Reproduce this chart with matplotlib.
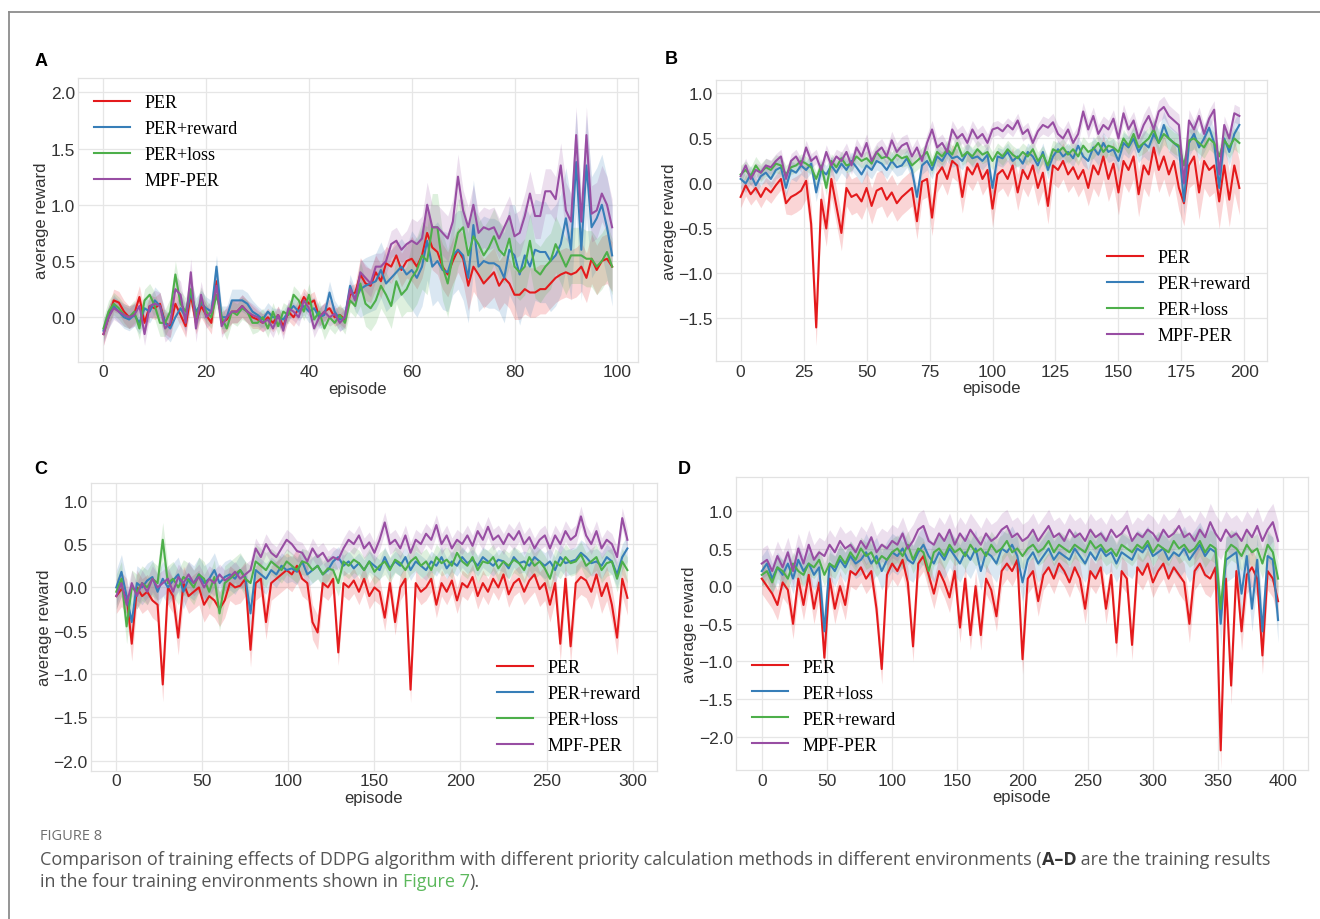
import matplotlib
matplotlib.use('Agg')
import matplotlib.pyplot as plt
import numpy as np
from matplotlib.lines import Line2D

plt.rcParams['font.family'] = ['Liberation Sans', 'DejaVu Sans']

colors = ['#e41a1c', '#377eb8', '#4daf4a', '#984ea3']
labels_abc = ['PER', 'PER+reward', 'PER+loss', 'MPF-PER']
labels_d = ['PER', 'PER+loss', 'PER+reward', 'MPF-PER']

# ---- panel A: 100 episodes, every episode ----
a_per = [-0.15, 0.0, 0.15, 0.13, 0.05, 0.0, 0.03, 0.18, -0.05, 0.1,
         0.08, 0.12, -0.05, -0.08, 0.12, 0.02, -0.08, 0.2, -0.05, 0.1,
         0.02, -0.05, 0.32, -0.05, -0.02, 0.05, 0.05, 0.1, 0.05, 0.0,
         -0.02, -0.05, 0.0, -0.05, 0.02, -0.08, 0.05, 0.0, 0.08, 0.18,
         0.12, 0.15, 0.0, 0.05, 0.08, 0.0, 0.02, -0.02, 0.2, 0.22,
         0.38, 0.3, 0.28, 0.4, 0.32, 0.48, 0.45, 0.55, 0.42, 0.5,
         0.52, 0.45, 0.55, 0.75, 0.62, 0.58, 0.45, 0.38, 0.5, 0.6,
         0.52, 0.28, 0.45, 0.38, 0.3, 0.35, 0.4, 0.28, 0.35, 0.3,
         0.2, 0.2, 0.25, 0.22, 0.22, 0.25, 0.25, 0.3, 0.35, 0.38,
         0.4, 0.38, 0.4, 0.45, 0.35, 0.52, 0.42, 0.5, 0.52, 0.45]
a_reward = [-0.12, 0.0, 0.1, 0.05, 0.0, -0.02, 0.02, -0.05, 0.08, 0.05,
            0.15, 0.1, -0.05, -0.1, 0.0, 0.08, 0.0, 0.22, 0.05, 0.12,
            0.08, 0.05, 0.45, 0.0, 0.0, 0.15, 0.15, 0.15, 0.12, 0.05,
            0.02, -0.02, 0.05, 0.0, 0.0, -0.02, 0.05, 0.1, 0.05, 0.1,
            0.05, 0.08, 0.0, 0.02, 0.22, 0.05, -0.02, 0.0, 0.28, 0.15,
            0.25, 0.28, 0.3, 0.32, 0.42, 0.3, 0.35, 0.4, 0.45, 0.38,
            0.42, 0.35, 0.45, 0.68, 0.45, 0.5, 0.42, 0.4, 0.55, 0.6,
            0.55, 0.35, 0.82, 0.45, 0.5, 0.48, 0.48, 0.45, 0.35, 0.6,
            0.55, 0.38, 0.55, 0.45, 0.6, 0.58, 0.58, 0.5, 0.55, 0.65,
            0.88, 0.6, 1.38, 0.6, 1.35, 0.8, 0.88, 1.0, 0.8, 0.55]
a_loss = [-0.1, 0.05, 0.12, 0.08, 0.02, 0.0, 0.05, -0.1, 0.15, 0.2,
          0.1, -0.05, -0.05, 0.05, 0.38, 0.12, 0.05, 0.25, 0.0, 0.15,
          0.05, 0.0, 0.2, 0.0, -0.1, 0.05, 0.02, 0.08, 0.05, -0.05,
          -0.05, 0.0, -0.1, 0.05, -0.08, 0.05, 0.02, 0.2, 0.15, 0.05,
          0.2, -0.02, 0.05, -0.1, 0.0, -0.05, 0.02, -0.05, 0.15, 0.1,
          0.3, 0.12, 0.08, 0.15, 0.28, 0.2, 0.1, 0.32, 0.2, 0.25,
          0.35, 0.42, 0.55, 0.5, 0.8, 0.8, 0.45, 0.3, 0.55, 0.75,
          0.8, 0.55, 0.72, 0.65, 0.55, 0.62, 0.72, 0.6, 0.55, 0.7,
          0.45, 0.4, 0.45, 0.68, 0.42, 0.38, 0.45, 0.5, 0.65, 0.55,
          0.45, 0.55, 0.55, 0.55, 0.52, 0.52, 0.45, 0.5, 0.58, 0.45]
a_mpf = [-0.15, 0.0, 0.08, 0.05, 0.02, 0.0, 0.02, 0.1, -0.15, 0.1,
         0.12, 0.1, -0.1, -0.05, 0.25, 0.2, -0.05, 0.4, -0.1, 0.2,
         0.0, 0.05, 0.28, -0.08, 0.0, 0.05, 0.05, 0.1, 0.05, 0.02,
         0.0, -0.05, -0.02, -0.1, 0.02, -0.12, 0.08, 0.05, 0.0, 0.15,
         0.08, -0.1, 0.0, 0.05, 0.0, 0.03, -0.05, 0.0, 0.25, 0.15,
         0.4, 0.35, 0.3, 0.45, 0.45, 0.5, 0.65, 0.68, 0.6, 0.65,
         0.68, 0.65, 0.7, 1.0, 0.8, 0.8, 0.75, 0.7, 0.85, 1.25,
         0.95, 0.8, 1.0, 0.75, 0.8, 0.78, 0.8, 0.7, 0.8, 0.9,
         0.72, 0.75, 0.9, 1.1, 0.9, 0.9, 1.12, 1.12, 1.05, 1.35,
         0.95, 0.85, 1.62, 0.85, 1.62, 0.92, 0.95, 1.1, 1.0, 0.8]
# band half-widths, one value per tenth of the run
a_spread = [[0.1, 0.1, 0.1, 0.08, 0.08, 0.15, 0.2, 0.22, 0.22, 0.22],
            [0.1, 0.12, 0.1, 0.08, 0.1, 0.25, 0.35, 0.4, 0.45, 0.45],
            [0.1, 0.12, 0.1, 0.08, 0.1, 0.2, 0.3, 0.25, 0.25, 0.25],
            [0.1, 0.12, 0.1, 0.08, 0.08, 0.12, 0.2, 0.18, 0.2, 0.25]]

# ---- panel B: 200 episodes, every 2nd episode ----
b_per = [-0.15, -0.02, -0.12, -0.05, -0.15, -0.05, -0.1, -0.02, 0.05, -0.22,
         -0.15, -0.12, -0.08, 0.03, -0.45, -1.6, -0.18, -0.5, 0.05, -0.25,
         -0.55, -0.05, -0.15, -0.12, -0.2, -0.05, -0.25, -0.08, -0.05, -0.18,
         -0.1, -0.22, -0.15, -0.1, -0.05, -0.42, 0.02, 0.05, -0.38, 0.1,
         0.18, 0.05, 0.25, 0.2, -0.15, 0.18, 0.1, 0.22, 0.05, 0.15,
         -0.28, 0.1, 0.15, 0.05, 0.2, -0.1, 0.15, 0.05, 0.2, -0.05,
         0.12, -0.25, 0.2, 0.15, 0.25, 0.1, 0.18, 0.05, 0.15, -0.05,
         0.2, 0.1, 0.3, 0.05, 0.22, -0.1, 0.25, 0.15, 0.3, -0.12,
         0.2, 0.1, 0.4, 0.15, 0.3, 0.1, 0.25, -0.05, -0.22, 0.2,
         0.3, -0.1, 0.25, 0.15, 0.2, -0.2, 0.2, -0.18, 0.2, -0.05]
b_reward = [0.05, 0.0, 0.1, -0.02, 0.08, 0.12, 0.05, 0.15, 0.18, -0.05,
            0.15, 0.12, 0.2, 0.15, 0.22, -0.1, 0.15, 0.1, 0.2, 0.12,
            0.22, 0.15, 0.25, 0.18, 0.1, 0.2, 0.15, 0.25, 0.22, 0.15,
            0.25, 0.18, 0.2, 0.28, 0.15, -0.15, 0.2, 0.25, 0.15, 0.3,
            0.25, 0.35, 0.28, 0.3, 0.25, 0.35, 0.28, 0.3, 0.25, 0.32,
            -0.05, 0.3, 0.28, 0.35, 0.25, 0.3, 0.22, 0.35, 0.3, 0.2,
            0.35, 0.15, 0.3, 0.38, 0.3, 0.35, 0.28, 0.42, 0.3, 0.25,
            0.4, 0.32, 0.45, 0.35, 0.38, 0.25, 0.45, 0.4, 0.5, 0.35,
            0.45, 0.4, 0.55, 0.45, 0.65, 0.5, 0.45, 0.4, -0.2, 0.45,
            0.55, 0.4, 0.5, 0.62, 0.45, -0.05, 0.5, 0.35, 0.55, 0.65]
b_loss = [0.1, 0.15, 0.08, 0.2, 0.12, 0.18, 0.15, 0.22, 0.2, 0.1,
          0.18, 0.2, 0.25, 0.22, 0.18, 0.05, 0.2, -0.05, 0.25, 0.18,
          0.28, 0.2, 0.22, 0.3, 0.25, 0.28, 0.22, 0.35, 0.28, 0.3,
          0.25, 0.32, 0.28, 0.3, 0.2, 0.25, 0.3, 0.35, 0.2, 0.35,
          0.3, 0.38, 0.32, 0.45, 0.3, 0.35, 0.3, 0.38, 0.32, 0.35,
          0.25, 0.35, 0.3, 0.38, 0.32, 0.28, 0.35, 0.3, 0.38, 0.25,
          0.32, 0.2, 0.38, 0.35, 0.4, 0.32, 0.38, 0.3, 0.42, 0.35,
          0.38, 0.45, 0.35, 0.42, 0.4, 0.35, 0.5, 0.42, 0.55, 0.4,
          0.45, 0.5, 0.6, 0.45, 0.55, 0.5, 0.45, 0.42, 0.2, 0.48,
          0.5, 0.45, 0.4, 0.5, 0.45, 0.3, 0.48, 0.4, 0.5, 0.45]
b_mpf = [0.08, 0.2, 0.05, 0.15, 0.12, 0.2, 0.18, 0.25, 0.3, 0.05,
         0.25, 0.3, 0.2, 0.4, 0.25, 0.3, 0.15, 0.35, 0.2, 0.3,
         0.25, 0.35, 0.2, 0.4, 0.3, 0.45, 0.25, 0.35, 0.4, 0.3,
         0.48, 0.35, 0.42, 0.45, 0.3, 0.4, 0.25, 0.45, 0.6, 0.4,
         0.45, 0.35, 0.6, 0.5, 0.55, 0.45, 0.6, 0.5, 0.55, 0.45,
         0.6, 0.62, 0.58, 0.65, 0.6, 0.7, 0.55, 0.6, 0.45, 0.58,
         0.65, 0.62, 0.68, 0.55, 0.5, 0.6, 0.45, 0.55, 0.8, 0.6,
         0.75, 0.55, 0.65, 0.6, 0.72, 0.5, 0.78, 0.6, 0.7, 0.5,
         0.65, 0.75, 0.6, 0.8, 0.85, 0.75, 0.7, 0.65, 0.0, 0.7,
         0.6, 0.75, 0.55, 0.72, 0.82, 0.1, 0.65, 0.5, 0.78, 0.75]
b_spread = [[0.12, 0.2, 0.2, 0.2, 0.18, 0.2, 0.2, 0.25, 0.25, 0.3],
            [0.1, 0.1, 0.1, 0.1, 0.1, 0.1, 0.1, 0.12, 0.15, 0.15],
            [0.1, 0.08, 0.08, 0.1, 0.1, 0.1, 0.1, 0.1, 0.12, 0.12],
            [0.08, 0.08, 0.1, 0.1, 0.1, 0.08, 0.1, 0.1, 0.12, 0.1]]

# ---- panel C: 300 episodes, every 3rd episode ----
c_per = [-0.1, -0.02, -0.1, -0.65, 0.0, -0.1, -0.05, -0.15, -0.2, -1.12,
         0.0, -0.1, -0.58, 0.05, -0.1, -0.05, 0.0, -0.2, -0.1, -0.15,
         -0.25, -0.15, 0.05, 0.0, 0.02, 0.1, -0.72, 0.05, 0.1, -0.4,
         0.05, 0.1, 0.15, 0.2, 0.15, 0.25, 0.1, 0.05, -0.4, -0.52,
         0.05, 0.0, 0.1, -0.75, 0.05, 0.0, 0.08, -0.05, 0.1, -0.1,
         0.0, -0.05, -0.35, 0.05, -0.4, 0.0, 0.1, -1.18, 0.05, -0.05,
         0.0, 0.1, -0.2, 0.05, -0.05, 0.08, -0.15, 0.05, 0.0, 0.12,
         -0.1, 0.05, -0.05, 0.1, 0.0, 0.15, -0.08, 0.05, 0.1, -0.05,
         0.08, 0.15, -0.02, 0.05, -0.2, 0.05, -0.65, 0.1, -0.68, 0.05,
         0.12, 0.08, -0.05, 0.15, -0.1, 0.05, -0.2, -0.58, 0.1, -0.12]
c_reward = [0.0, 0.18, -0.1, -0.4, 0.05, 0.0, 0.08, 0.12, -0.05, 0.1,
            0.0, 0.08, 0.15, -0.05, 0.1, 0.05, 0.15, 0.05, 0.1, 0.2,
            0.05, 0.12, 0.15, 0.1, 0.2, 0.12, -0.3, 0.2, 0.15, 0.1,
            0.2, 0.15, 0.25, 0.2, 0.22, 0.18, 0.3, 0.15, 0.2, 0.25,
            0.15, 0.2, 0.3, 0.35, 0.25, 0.3, 0.22, 0.28, 0.2, 0.3,
            0.25, 0.2, 0.35, 0.22, 0.3, 0.25, 0.35, 0.2, 0.3, 0.25,
            0.2, 0.3, 0.25, 0.35, 0.22, 0.3, 0.25, 0.35, 0.28, 0.32,
            0.25, 0.35, 0.3, 0.25, 0.32, 0.3, 0.22, 0.35, 0.28, 0.3,
            0.25, 0.35, 0.3, 0.25, 0.3, 0.2, 0.35, 0.28, 0.3, 0.32,
            0.4, 0.35, 0.28, 0.3, 0.25, 0.35, 0.3, 0.15, 0.35, 0.45]
c_loss = [-0.05, 0.1, -0.45, 0.0, -0.05, 0.05, 0.0, 0.1, 0.05, 0.55,
          0.05, 0.1, 0.0, 0.12, 0.08, 0.0, 0.15, 0.1, -0.05, 0.12,
          -0.3, 0.05, 0.1, 0.15, 0.2, 0.1, 0.05, 0.3, 0.25, 0.2,
          0.3, 0.25, 0.2, 0.3, 0.25, 0.2, 0.3, 0.28, 0.2, 0.25,
          0.15, 0.22, 0.2, 0.05, 0.3, 0.25, 0.32, 0.28, 0.2, 0.3,
          0.18, 0.25, 0.3, 0.2, 0.32, 0.28, 0.2, 0.3, 0.35, 0.25,
          0.3, 0.2, 0.35, 0.28, 0.32, 0.25, 0.4, 0.3, 0.25, 0.35,
          0.2, 0.3, 0.28, 0.35, 0.22, 0.3, 0.25, 0.32, 0.28, 0.2,
          0.35, 0.25, 0.3, 0.22, 0.1, 0.3, 0.25, 0.35, 0.28, 0.3,
          0.38, 0.25, 0.3, 0.35, 0.2, 0.28, 0.3, 0.1, 0.3, 0.2]
c_mpf = [-0.1, 0.05, -0.2, 0.05, -0.1, 0.05, -0.05, 0.1, 0.0, 0.05,
         0.1, -0.05, 0.12, 0.05, 0.15, 0.05, 0.12, 0.0, 0.1, 0.05,
         0.15, 0.08, 0.12, 0.18, 0.1, 0.15, 0.2, 0.45, 0.35, 0.5,
         0.4, 0.35, 0.45, 0.55, 0.5, 0.42, 0.4, 0.3, 0.45, 0.35,
         0.4, 0.3, 0.35, 0.32, 0.45, 0.55, 0.5, 0.6, 0.45, 0.52,
         0.4, 0.55, 0.75, 0.5, 0.55, 0.45, 0.6, 0.4, 0.55, 0.5,
         0.62, 0.55, 0.72, 0.5, 0.6, 0.45, 0.55, 0.5, 0.6, 0.48,
         0.65, 0.55, 0.7, 0.55, 0.6, 0.5, 0.62, 0.55, 0.65, 0.5,
         0.58, 0.45, 0.55, 0.6, 0.45, 0.6, 0.5, 0.65, 0.55, 0.6,
         0.82, 0.6, 0.5, 0.65, 0.45, 0.55, 0.5, 0.35, 0.8, 0.55]
c_spread = [[0.2, 0.2, 0.2, 0.2, 0.15, 0.15, 0.15, 0.15, 0.2, 0.2],
            [0.2, 0.2, 0.18, 0.15, 0.12, 0.12, 0.12, 0.12, 0.15, 0.15],
            [0.2, 0.2, 0.2, 0.15, 0.15, 0.15, 0.15, 0.15, 0.15, 0.15],
            [0.15, 0.15, 0.12, 0.12, 0.12, 0.12, 0.12, 0.12, 0.12, 0.12]]

# ---- panel D: 400 episodes, every 4th episode ----
d_per = [0.1, 0.0, -0.1, -0.25, 0.05, -0.05, -0.5, 0.1, -0.25, 0.15,
         -0.3, 0.05, -0.95, 0.1, -0.3, 0.0, -0.25, 0.2, 0.15, 0.25,
         0.1, 0.2, -0.3, -1.1, 0.15, 0.3, 0.2, 0.35, 0.05, -0.8,
         0.3, 0.4, 0.15, -0.1, 0.2, 0.05, -0.15, 0.2, -0.55, 0.1,
         -0.65, 0.0, -0.65, 0.1, -0.05, -0.4, 0.2, 0.3, 0.2, 0.35,
         -0.97, 0.1, 0.2, -0.2, 0.15, 0.25, 0.1, 0.3, 0.2, 0.05,
         0.25, 0.1, -0.3, 0.2, 0.1, 0.25, -0.3, 0.15, -0.75, 0.2,
         0.1, -0.78, 0.25, 0.15, 0.3, 0.05, 0.2, 0.3, 0.1, 0.25,
         0.15, 0.05, -0.5, 0.2, 0.3, 0.15, 0.1, 0.25, -2.18, 0.1,
         -1.32, 0.2, -0.6, 0.15, 0.25, 0.1, -0.92, 0.2, 0.1, -0.2]
d_loss = [0.2, 0.3, 0.1, 0.25, 0.15, 0.3, 0.1, 0.35, 0.2, 0.3,
          0.15, 0.25, -0.6, 0.3, 0.2, 0.35, 0.25, 0.4, 0.3, 0.35,
          0.45, 0.3, 0.4, 0.2, 0.35, 0.45, 0.4, 0.5, 0.35, 0.3,
          0.45, 0.55, 0.4, 0.3, 0.45, 0.35, 0.5, 0.4, 0.3, 0.45,
          0.35, 0.5, 0.2, 0.45, 0.4, 0.3, 0.5, 0.45, 0.55, 0.4,
          0.05, 0.35, 0.45, 0.3, 0.4, 0.5, 0.35, 0.45, 0.4, 0.35,
          0.5, 0.4, 0.3, 0.45, 0.35, 0.5, 0.4, 0.45, 0.3, 0.45,
          0.4, 0.35, 0.5, 0.45, 0.55, 0.4, 0.45, 0.5, 0.35, 0.45,
          0.4, 0.5, 0.35, 0.45, 0.55, 0.4, 0.5, 0.45, -0.5, 0.35,
          0.4, 0.45, -0.1, 0.4, -0.3, 0.35, -0.6, 0.4, 0.35, -0.45]
d_reward = [0.15, 0.2, 0.05, 0.25, 0.2, 0.1, 0.3, 0.2, 0.15, 0.3,
            0.25, 0.35, 0.15, 0.3, 0.25, 0.4, 0.3, 0.45, 0.35, 0.5,
            0.4, 0.45, 0.3, 0.4, 0.35, 0.45, 0.5, 0.4, 0.55, 0.35,
            0.5, 0.45, 0.2, 0.45, 0.5, 0.4, 0.55, 0.45, 0.5, 0.4,
            0.55, 0.45, 0.5, 0.4, 0.55, 0.45, 0.5, 0.6, 0.45, 0.5,
            0.4, 0.5, 0.55, 0.45, 0.5, 0.6, 0.45, 0.55, 0.5, 0.45,
            0.55, 0.5, 0.45, 0.6, 0.5, 0.55, 0.45, 0.5, 0.4, 0.55,
            0.5, 0.45, 0.55, 0.5, 0.6, 0.45, 0.55, 0.5, 0.45, 0.6,
            0.5, 0.55, 0.45, 0.5, 0.6, 0.45, 0.55, 0.5, -0.3, 0.45,
            0.55, 0.5, 0.4, 0.55, 0.45, 0.5, 0.3, 0.55, 0.45, 0.1]
d_mpf = [0.3, 0.35, 0.2, 0.4, 0.25, 0.45, 0.2, 0.5, 0.3, 0.55,
         0.35, 0.45, 0.4, 0.55, 0.45, 0.6, 0.5, 0.55, 0.45, 0.6,
         0.5, 0.65, 0.45, 0.55, 0.5, 0.6, 0.55, 0.7, 0.5, 0.6,
         0.75, 0.8, 0.6, 0.55, 0.7, 0.6, 0.75, 0.55, 0.7, 0.6,
         0.75, 0.65, 0.55, 0.7, 0.6, 0.65, 0.75, 0.8, 0.65, 0.7,
         0.6, 0.65, 0.75, 0.6, 0.7, 0.8, 0.65, 0.7, 0.6, 0.75,
         0.65, 0.7, 0.6, 0.75, 0.65, 0.7, 0.6, 0.75, 0.65, 0.7,
         0.8, 0.6, 0.7, 0.65, 0.75, 0.7, 0.6, 0.75, 0.65, 0.7,
         0.8, 0.65, 0.7, 0.6, 0.75, 0.65, 0.85, 0.7, 0.6, 0.75,
         0.65, 0.7, 0.6, 0.75, 0.65, 0.8, 0.6, 0.75, 0.85, 0.6]
d_spread = [[0.2, 0.2, 0.2, 0.2, 0.2, 0.2, 0.2, 0.2, 0.25, 0.25],
            [0.2, 0.2, 0.25, 0.25, 0.25, 0.25, 0.25, 0.25, 0.3, 0.3],
            [0.15, 0.15, 0.18, 0.18, 0.18, 0.18, 0.18, 0.18, 0.2, 0.2],
            [0.2, 0.2, 0.22, 0.22, 0.22, 0.22, 0.22, 0.22, 0.25, 0.25]]

panels = [
    dict(tag='A', rect=[0.0591, 0.6058, 0.4239, 0.3083], step=1,
         series=[a_per, a_reward, a_loss, a_mpf], spread=a_spread, names=labels_abc,
         xlim=(-4.95, 103.95), ylim=(-0.395, 2.127), xticks=np.arange(0, 101, 20),
         yticks=[0.0, 0.5, 1.0, 1.5, 2.0], loc='upper left', tag_xy=(41, 62)),
    dict(tag='B', rect=[0.5421, 0.6068, 0.4177, 0.3052], step=2,
         series=[b_per, b_reward, b_loss, b_mpf], spread=b_spread, names=labels_abc,
         xlim=(-9.95, 208.95), ylim=(-1.97, 1.15), xticks=np.arange(0, 201, 25),
         yticks=[-1.5, -1.0, -0.5, 0.0, 0.5, 1.0], loc='lower right', tag_xy=(671, 60)),
    dict(tag='C', rect=[0.0686, 0.1612, 0.4288, 0.3127], step=3,
         series=[c_per, c_reward, c_loss, c_mpf], spread=c_spread, names=labels_abc,
         xlim=(-14.95, 313.95), ylim=(-2.115, 1.205), xticks=np.arange(0, 301, 50),
         yticks=[-2.0, -1.5, -1.0, -0.5, 0.0, 0.5, 1.0], loc='lower right', tag_xy=(41, 470)),
    dict(tag='D', rect=[0.5574, 0.1620, 0.4335, 0.3185], step=4,
         series=[d_per, d_loss, d_reward, d_mpf], spread=d_spread, names=labels_d,
         xlim=(-19.95, 418.95), ylim=(-2.44, 1.45), xticks=np.arange(0, 401, 50),
         yticks=[-2.0, -1.5, -1.0, -0.5, 0.0, 0.5, 1.0], loc='lower left', tag_xy=(684, 470)),
]

W, H = 1320, 920
fig = plt.figure(figsize=(W / 100, H / 100), dpi=100)
fig.patch.set_facecolor('white')

for p in panels:
    ax = fig.add_axes(p['rect'])
    for k, vals in enumerate(p['series']):
        y = np.array(vals)
        x = p['step'] * np.arange(len(y))
        half = np.repeat(p['spread'][k], int(np.ceil(len(y) / 10)))[:len(y)]
        ax.fill_between(x, y - half, y + half, color=colors[k], alpha=0.18, lw=0)
        ax.plot(x, y, color=colors[k], lw=1.5, label=p['names'][k])
    ax.set_xlim(*p['xlim'])
    ax.set_ylim(*p['ylim'])
    ax.set_xticks(p['xticks'])
    ax.set_yticks(p['yticks'])
    ax.tick_params(length=0, pad=2, labelsize=12.5, labelcolor='#333333')
    ax.grid(True, color='#e6e6e6', lw=0.9)
    ax.set_axisbelow(True)
    for s in ax.spines.values():
        s.set_color('#e2e2e2')
        s.set_linewidth(0.9)
    ax.set_xlabel('episode', fontsize=12, color='#333333', labelpad=1)
    ax.set_ylabel('average reward', fontsize=12, color='#333333', labelpad=1)
    ax.legend(loc=p['loc'], frameon=False, handlelength=2.0,
              prop={'family': 'Liberation Serif', 'size': 13})
    fig.text(p['tag_xy'][0] / W, 1 - p['tag_xy'][1] / H, p['tag'],
             fontsize=13, fontweight='bold', ha='center', va='center')

# page frame lines (top and left)
fig.add_artist(Line2D([0.0068, 1.0], [0.986, 0.986], color='#8c8c8c', lw=1.3))
fig.add_artist(Line2D([0.0068, 0.0068], [0.0, 0.986], color='#8c8c8c', lw=1.3))

# caption
cap_font = ['Open Sans', 'DejaVu Sans']
fig.text(40 / W, 1 - 837 / H, 'FIGURE 8', fontsize=10.5, color='#707070',
         family=cap_font, va='center')


def chain_line(pieces, y_px):
    # place text pieces one after another on the same line
    last = None
    for txt, kw in pieces:
        style = dict(fontsize=13, color='#555555', family=cap_font)
        style.update(kw)
        if last is None:
            last = fig.text(40 / W, 1 - y_px / H, txt, va='center', **style)
        else:
            last = fig.axes[0].annotate(txt, xy=(1, 0), xycoords=last, va='bottom',
                                        ha='left', annotation_clip=False, **style)


chain_line([('Comparison of training effects of DDPG algorithm with different priority '
             'calculation methods in different environments (', {}),
            ('A\u2013D', {'fontweight': 'bold', 'color': '#333333'}),
            (' are the training results', {})], 860)
chain_line([('in the four training environments shown in ', {}),
            ('Figure 7', {'color': '#5cb85c'}),
            (').', {})], 882)

plt.savefig('out.png', dpi=100, facecolor='white')
